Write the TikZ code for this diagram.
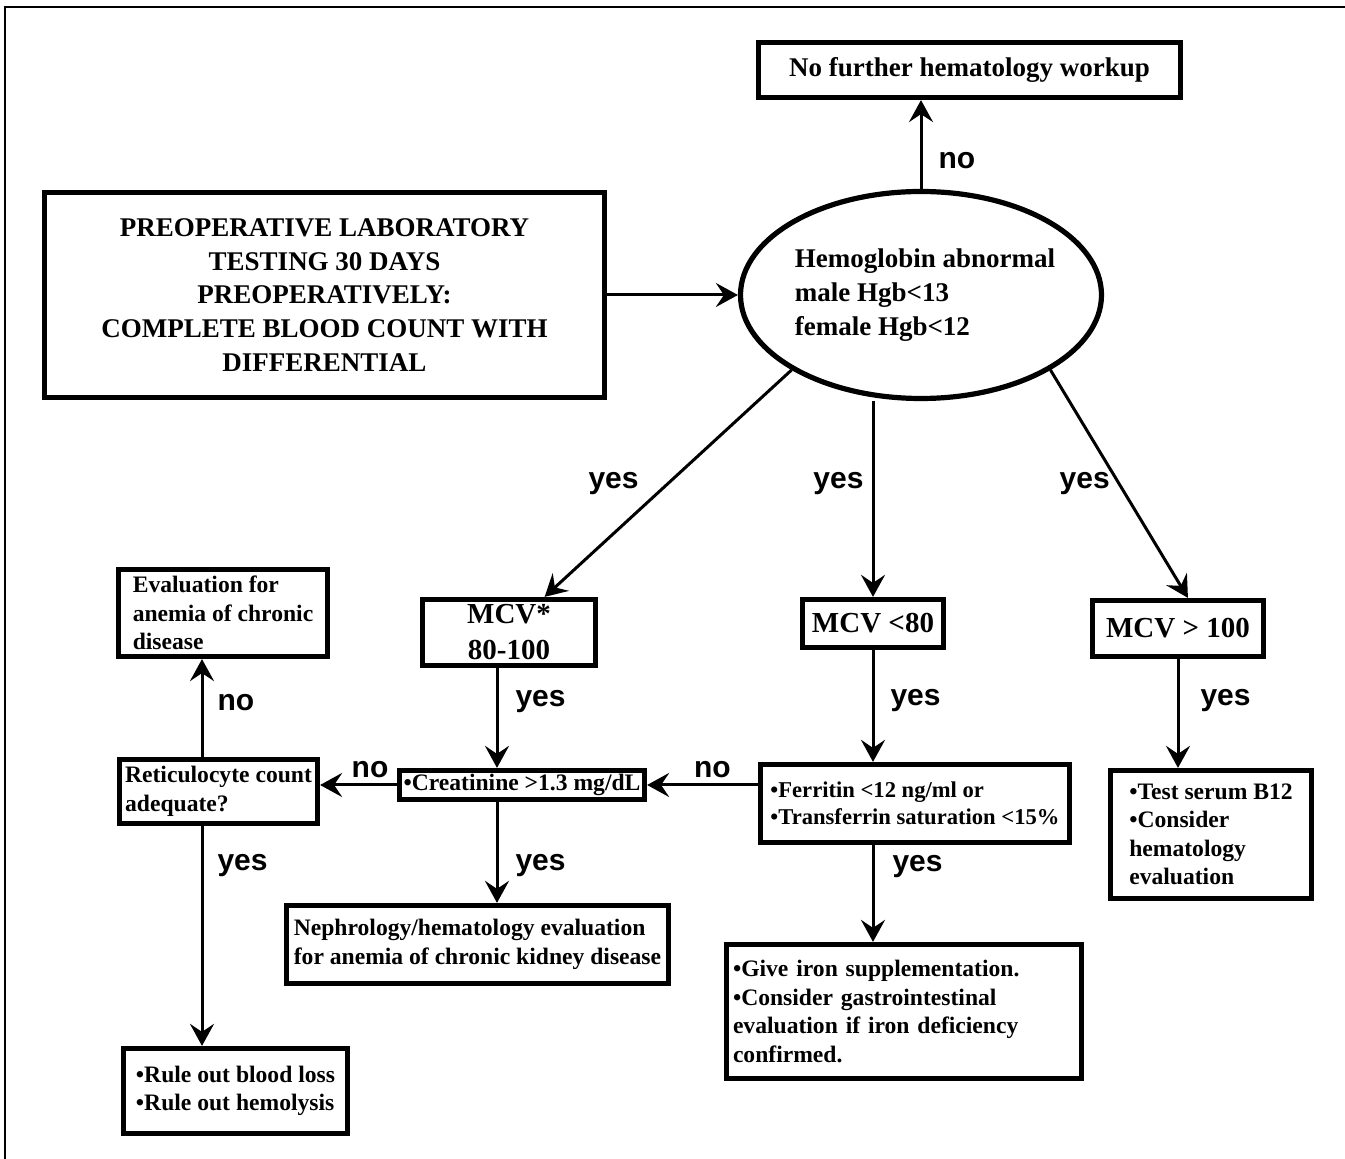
\documentclass[tikz,border=0pt]{standalone}
\usepackage{fontspec}
\setmainfont{Liberation Serif}
\newfontfamily\lblfont{Liberation Sans}
\usepackage{tikz}
\usetikzlibrary{arrows.meta,shapes.geometric}

\tikzset{
  box/.style={draw, line width=2.6pt, inner sep=0pt, font=\bfseries\fontsize{11.8}{14.2}\selectfont},
  bigbox/.style={box, align=center, font=\bfseries\fontsize{13.5}{16.9}\selectfont},
  mcvbox/.style={box, align=center, font=\bfseries\fontsize{14.5}{18}\selectfont},
  listbox/.style={box, align=left},
  arr/.style={-{Stealth[length=11pt,width=12pt,inset=4pt]}, line width=1.5pt},
  lbl/.style={inner sep=0pt, font=\lblfont\bfseries\fontsize{15}{18}\selectfont},
}

\begin{document}
\begin{tikzpicture}[x=0.5pt,y=-0.5pt]
\path[use as bounding box] (0,0) rectangle (1345,1159);
\draw[line width=1.3pt] (5,1159) -- (5,7) -- (1345,7);

% top row
\node[bigbox, minimum width=211pt, minimum height=27.5pt] (nofur) at (969.5,70) {No further hematology workup};
\node[bigbox, minimum width=280pt, minimum height=102.5pt] (preop) at (324.5,295)
  {PREOPERATIVE LABORATORY\\TESTING 30 DAYS\\PREOPERATIVELY:\\COMPLETE BLOOD COUNT WITH\\DIFFERENTIAL};
\node[ellipse, draw, line width=2.6pt, minimum width=180.5pt, minimum height=103.5pt,
  label={[align=left, inner sep=0pt, xshift=2pt, font=\bfseries\fontsize{13.5}{16.9}\selectfont]center:Hemoglobin abnormal\\male Hgb<13\\female Hgb<12}] (hgb) at (921,295) {};

% MCV row
\node[mcvbox, minimum width=86.5pt, minimum height=33pt] (mcvn) at (509,632.5) {MCV*\\80-100};
\node[mcvbox, minimum width=70.5pt, minimum height=24pt] (mcvl) at (873,623.5) {MCV <80};
\node[mcvbox, minimum width=85.5pt, minimum height=28pt] (mcvh) at (1178,628.5) {MCV > 100};

% workup boxes
\node[listbox, minimum width=104.5pt, minimum height=43.5pt] (evalacd) at (223,613)
  {Evaluation for\\anemia of chronic\\disease};
\node[listbox, minimum width=99pt, minimum height=32pt] (retic) at (218.5,791.5)
  {Reticulocyte count\\adequate?};
\node[box, minimum width=122.5pt, minimum height=14.5pt] (creat) at (522,785)
  {\textbullet Creatinine >1.3 mg/dL};
\node[listbox, minimum width=154.5pt, minimum height=39pt, font=\bfseries\fontsize{11.3}{13.8}\selectfont] (ferr) at (915,803.5)
  {\textbullet Ferritin <12 ng/ml or\\\textbullet Transferrin saturation <15\%};
\node[listbox, minimum width=100.5pt, minimum height=64pt] (b12) at (1211,834.5)
  {\textbullet Test serum B12\\\textbullet Consider\\hematology\\evaluation};
\node[listbox, minimum width=191pt, minimum height=39pt] (nephro) at (477.5,944.5)
  {Nephrology/hematology evaluation\\for anemia of chronic kidney disease};
\node[listbox, text width=171pt, inner xsep=3.2pt, minimum height=67pt] (iron) at (904,1011.5)
  {\textbullet Give iron supplementation.\\\textbullet Consider gastrointestinal\\evaluation if iron deficiency\\confirmed.};
\node[listbox, minimum width=112pt, minimum height=42.5pt] (ruleout) at (235.5,1091)
  {\textbullet Rule out blood loss\\\textbullet Rule out hemolysis};

\coordinate (lcol) at (202,0);
\coordinate (ccol) at (497,0);

% connectors
\draw[arr] (preop.east) -- (hgb.west);
\draw[arr] (hgb.north) -- node[lbl, right=8pt, pos=.32] {no} (hgb.north |- nofur.south);
\draw[arr] (hgb.south west) -- node[lbl, left=14pt] {yes} (mcvn.45);
\draw[arr] (mcvl.north |- hgb.south) -- node[lbl, left=4pt, pos=.42] {yes} (mcvl.north);
\draw[arr] (hgb.south east) -- node[lbl, left=4pt, pos=.5] {yes} (mcvh.72);

\draw[arr] (mcvn.south -| ccol) -- node[lbl, right=8.5pt, pos=.34] {yes} (creat.north -| ccol);
\draw[arr] (mcvl.south) -- node[lbl, right=8pt, pos=.45] {yes} (mcvl.south |- ferr.north);
\draw[arr] (mcvh.south) -- node[lbl, right=10.5pt, pos=.38] {yes} (mcvh.south |- b12.north);

\draw[arr] (ferr.west |- creat.east) -- node[lbl, above=3pt, pos=.41] {no} (creat.east);
\draw[arr] (creat.west) -- node[lbl, above=3pt, pos=.35] {no} (retic.east |- creat.west);
\draw[arr] (retic.north -| lcol) -- node[lbl, right=7pt, pos=.56] {no} (evalacd.south -| lcol);
\draw[arr] (retic.south -| lcol) -- node[lbl, right=7pt, pos=.18] {yes} (ruleout.north -| lcol);
\draw[arr] (creat.south -| ccol) -- node[lbl, right=8.5pt, pos=.63] {yes} (nephro.north -| ccol);
\draw[arr] (ferr.south -| mcvl.south) -- node[lbl, right=9pt, pos=.22] {yes} (iron.north -| mcvl.south);
\end{tikzpicture}
\end{document}
